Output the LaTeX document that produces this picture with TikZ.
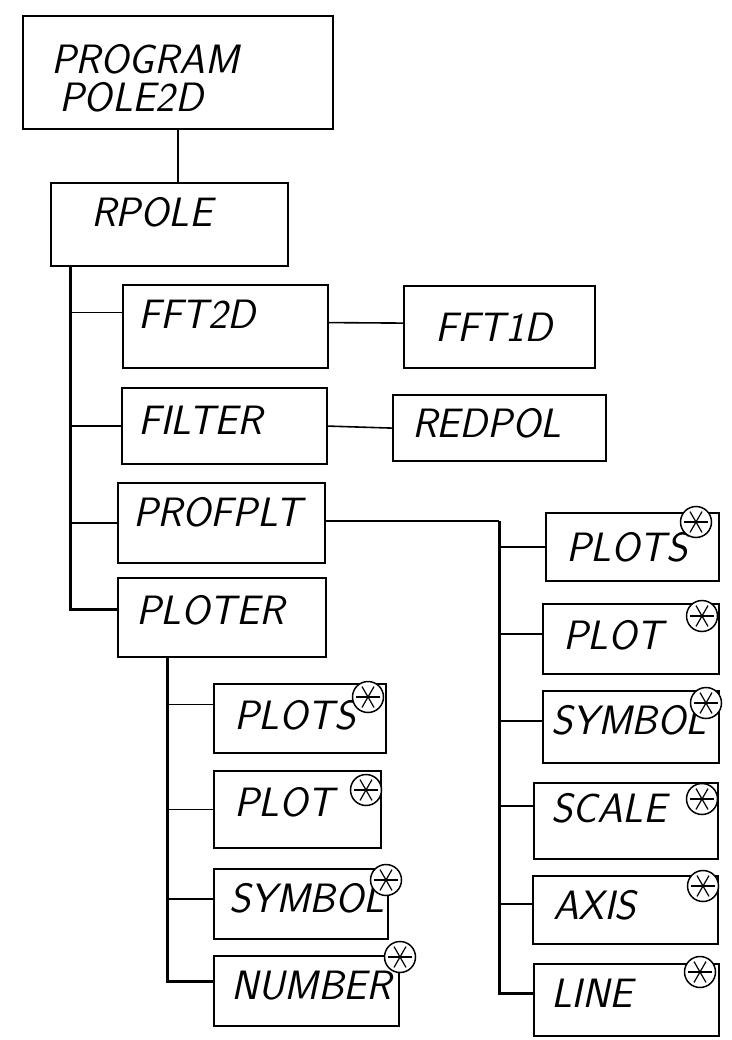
\documentclass[tikz,border=0pt]{standalone}
\usepackage{fontspec}
\begin{document}
\begin{tikzpicture}[x=1pt,y=-1pt,
  bx/.style={draw, line width=2.2pt, anchor=north west, inner ysep=0pt, align=left,
    text height=28pt, font=\fontsize{41}{38}\selectfont\sffamily\itshape},
  trunk/.style={line width=3pt},
  conn/.style={line width=1.6pt},
  astmark/.style={circle, draw, fill=white, minimum size=31pt, inner sep=0pt, line width=1.5pt,
    path picture={\foreach \a in {0,60,120}{\draw[line width=1.2pt] (path picture bounding box.center) -- ++(\a:12pt) (path picture bounding box.center) -- ++(\a+180:12pt);}}}
]
\useasboundingbox (0,0) rectangle (731,1040);
% boxes
\node[bx, minimum width=310pt, minimum height=113pt, inner xsep=28pt, text width=254pt, text depth=27pt] (prog) at (22,15) {PROGRAM\\\hspace*{8pt}POLE2D};
\node[bx, minimum width=237pt, minimum height=83pt, inner xsep=40pt, text width=157pt, text depth=25pt] (rpole) at (50,182) {RPOLE};
\node[bx, minimum width=205pt, minimum height=83pt, inner xsep=15pt, text width=175pt, text depth=25pt] (fft2d) at (122,284) {FFT2D};
\node[bx, minimum width=191pt, minimum height=82pt, inner xsep=31pt, text width=129pt, text depth=0pt] (fft1d) at (403,285) {FFT1D};
\node[bx, minimum width=205pt, minimum height=76pt, inner xsep=16pt, text width=173pt, text depth=12pt] (filter) at (121,387) {FILTER};
\node[bx, minimum width=213pt, minimum height=66pt, inner xsep=19pt, text width=175pt, text depth=10pt] (redpol) at (392,394) {REDPOL};
\node[bx, minimum width=207pt, minimum height=80pt, inner xsep=15pt, text width=177pt, text depth=22pt] (profplt) at (117,482) {PROFPLT};
\node[bx, minimum width=208pt, minimum height=79pt, inner xsep=18pt, text width=172pt, text depth=15pt] (ploter) at (117,577) {PLOTER};
% left column
\node[bx, minimum width=172pt, minimum height=69pt, inner xsep=20pt, text width=132pt, text depth=7pt] (lplots) at (213,683) {PLOTS};
\node[bx, minimum width=167pt, minimum height=77pt, inner xsep=20pt, text width=127pt, text depth=15pt] (lplot) at (213,770) {PLOT};
\node[bx, minimum width=174pt, minimum height=70pt, inner xsep=15pt, text width=144pt, text depth=12pt] (lsymbol) at (213,868) {SYMBOL};
\node[bx, minimum width=185pt, minimum height=70pt, inner xsep=17pt, text width=151pt, text depth=12pt] (lnumber) at (213,955) {NUMBER};
% right column
\node[bx, minimum width=173pt, minimum height=68pt, inner xsep=20pt, text width=133pt, text depth=0pt] (rplots) at (545,512) {PLOTS};
\node[bx, minimum width=176pt, minimum height=70pt, inner xsep=20pt, text width=136pt, text depth=8pt] (rplot) at (542,603) {PLOT};
\node[bx, minimum width=176pt, minimum height=72pt, inner xsep=8pt, text width=160pt, text depth=14pt] (rsymbol) at (542,690) {SYMBOL};
\node[bx, minimum width=184pt, minimum height=76pt, inner xsep=17pt, text width=150pt, text depth=26pt] (rscale) at (533,782) {SCALE};
\node[bx, minimum width=185pt, minimum height=68pt, inner xsep=20pt, text width=145pt, text depth=10pt] (raxis) at (532,875) {AXIS};
\node[bx, minimum width=185pt, minimum height=72pt, inner xsep=17pt, text width=151pt, text depth=14pt] (rline) at (533,963) {LINE};
% asterisk marks
\node[astmark] (a1) at (368,697) {};
\node[astmark] (a2) at (366,790) {};
\node[astmark] (a3) at (386,880) {};
\node[astmark] (a4) at (400,957) {};
\node[astmark] (a5) at (696,522) {};
\node[astmark] (a6) at (702,616) {};
\node[astmark] (a7) at (706,703) {};
\node[astmark] (a8) at (702,799) {};
\node[astmark] (a9) at (703,886) {};
\node[astmark] (a10) at (700,972) {};
% connector end points
\coordinate (e1) at ([yshift=14pt]fft2d.west);
\coordinate (e2) at ([yshift=8pt]ploter.west);
\coordinate (e3) at ([yshift=2pt]profplt.east);
\coordinate (e4) at ([yshift=5pt]rplot.west);
\coordinate (e5) at ([yshift=6pt]rsymbol.west);
\coordinate (e6) at ([yshift=15pt]rscale.west);
\coordinate (e7) at ([yshift=6pt]raxis.west);
\coordinate (e8) at ([yshift=7pt]rline.west);
\coordinate (e9) at ([yshift=14pt]lplots.west);
\coordinate (e10) at ([yshift=5pt]lsymbol.west);
\coordinate (e11) at ([yshift=10pt]lnumber.west);
\coordinate (e12) at ([yshift=4pt]fft2d.east);
\coordinate (e13) at ([yshift=4pt]fft1d.west);
% connectors
\draw[conn] (prog.south) -- (prog.south |- rpole.north);
\coordinate (t0) at ([xshift=20pt]rpole.south west);
\draw[trunk] (t0) |- (e2);
\draw[conn] (t0 |- e1) -- (e1);
\draw[conn] (t0 |- filter.west) -- (filter.west);
\draw[conn] (t0 |- profplt.west) -- (profplt.west);
\draw[conn] (e12) -- (e13);
\draw[conn] (filter.east) -- (redpol.west);
\draw[conn] (e3) -- ++(173pt,0) coordinate (rc);
\draw[trunk] (rc) |- (e8);
\draw[conn] (rc |- rplots.west) -- (rplots.west);
\draw[conn] (rc |- e4) -- (e4);
\draw[conn] (rc |- e5) -- (e5);
\draw[conn] (rc |- e6) -- (e6);
\draw[conn] (rc |- e7) -- (e7);
\coordinate (p0) at ([xshift=50pt]ploter.south west);
\draw[trunk] (p0) |- (e11);
\draw[conn] (p0 |- e9) -- (e9);
\draw[conn] (p0 |- lplot.west) -- (lplot.west);
\draw[conn] (p0 |- e10) -- (e10);
\end{tikzpicture}
\end{document}
